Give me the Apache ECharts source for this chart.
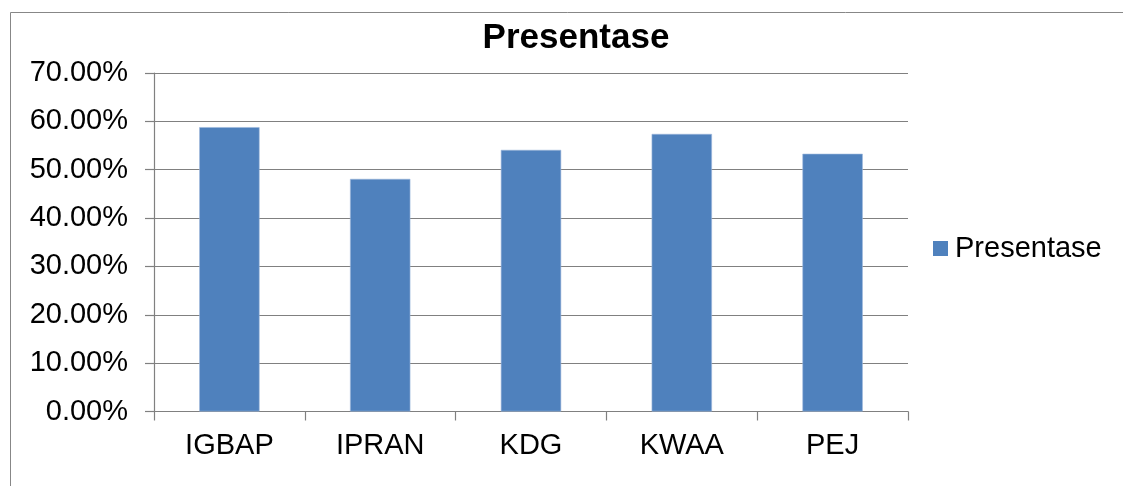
<!DOCTYPE html>
<html>
<head>
<meta charset="utf-8">
<script src="https://cdn.jsdelivr.net/npm/echarts@6/dist/echarts.min.js"></script>
<style>
html,body{margin:0;padding:0;background:#fff;}
#chart{width:1123px;height:486px;}
</style>
</head>
<body>
<div id="chart"></div>
<script>
const categories = ['IGBAP', 'IPRAN', 'KDG', 'KWAA', 'PEJ'];
const presentase = [58.8, 48.1, 54.1, 57.4, 53.3];
const seriesName = 'Presentase';
const chartTitle = 'Presentase';

const chart = echarts.init(document.getElementById('chart'));
const font = 'Liberation Sans, Arial, sans-serif';
chart.setOption({
  animation: false,
  backgroundColor: '#ffffff',
  graphic: [{
    type: 'rect',
    silent: true,
    shape: { x: 10.5, y: 12.5, width: 1200, height: 600 },
    style: { fill: 'none', stroke: '#878787', lineWidth: 1 }
  }],
  title: {
    text: chartTitle,
    left: 571, top: 16, textAlign: 'center',
    textStyle: { fontFamily: font, fontSize: 35, fontWeight: 'bold', color: '#000' }
  },
  legend: {
    left: 928, top: 229,
    itemWidth: 15, itemHeight: 15, itemGap: 10,
    icon: 'rect',
    itemStyle: { borderWidth: 0 },
    textStyle: { fontFamily: font, fontSize: 29, color: '#000', padding: [0,0,0,2] },
    data: [seriesName]
  },
  grid: { left: 154, right: 215, top: 73, bottom: 74.5, containLabel: false },
  xAxis: {
    type: 'category',
    data: categories,
    boundaryGap: true,
    axisLine: { show: true, lineStyle: { color: '#808080', width: 1.2 } },
    axisTick: { show: true, length: 9, alignWithLabel: false, lineStyle: { color: '#808080', width: 1.2 } },
    axisLabel: { fontFamily: font, fontSize: 29, color: '#000', margin: 20 },
    splitLine: { show: false }
  },
  yAxis: {
    type: 'value',
    min: 0, max: 70, interval: 10,
    axisLine: { show: true, lineStyle: { color: '#808080', width: 1.2 } },
    axisTick: { show: true, length: 9, lineStyle: { color: '#808080', width: 1.2 } },
    axisLabel: { fontFamily: font, fontSize: 29, color: '#000', margin: 26,
      formatter: v => v.toFixed(2) + '%' },
    splitLine: { show: true, lineStyle: { color: '#808080', width: 1.2 } }
  },
  series: [{
    name: seriesName,
    type: 'bar',
    data: presentase,
    barWidth: '40%',
    itemStyle: { color: '#4F81BD', borderColor: '#9DB7DB', borderWidth: 0.6 }
  }]
});
</script>
</body>
</html>
